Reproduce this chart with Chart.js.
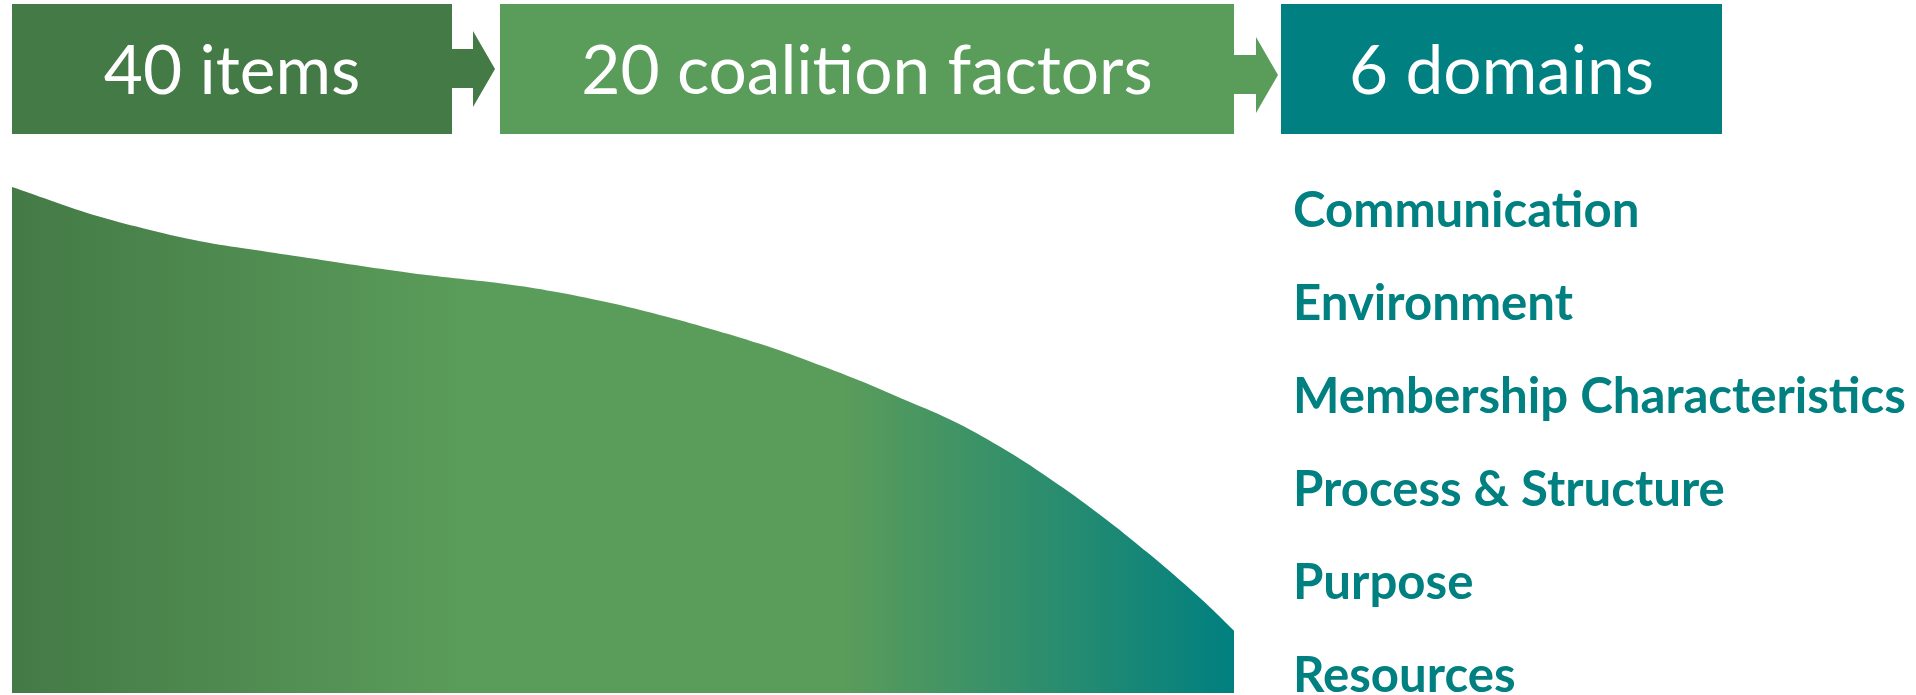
<!DOCTYPE html>
<html>
<head>
<meta charset="utf-8">
<script src="https://cdn.jsdelivr.net/npm/chart.js@4"></script>
<style>
  html, body { margin: 0; padding: 0; background: #ffffff; }
  body { width: 1916px; height: 695px; position: relative; overflow: hidden; font-family: Lato, "Open Sans", sans-serif; }
  #zona-curva { position: absolute; left: 12px; top: 187px; width: 1222px; height: 506px; }
  #capa { position: absolute; left: 0; top: 0; }
</style>
</head>
<body>
<div id="zona-curva"><canvas id="grafico" width="1222" height="506"></canvas></div>
<svg id="capa" width="1916" height="695" xmlns="http://www.w3.org/2000/svg"></svg>
<script>
// --- DATOS ---
const etapas = ['40 items', '20 coalition factors', '6 domains'];
const coloresEtapa = ['#447a46', '#5a9c5a', '#008080'];
const dominios = ['Communication', 'Environment', 'Membership Characteristics', 'Process & Structure', 'Purpose', 'Resources'];

// curva: posición horizontal (0-100) y altura relativa (0-100)
const posicion = [0, 3.1, 7.2, 11.3, 15.4, 19.5, 23.6, 32.6, 40.8, 44.9, 48.9, 53.0, 57.1, 61.2, 65.3, 69.4, 72.7, 76.8, 80.9, 84.9, 89.0, 93.1, 97.2, 100];
const altura = [100, 97.4, 94.1, 91.5, 89.3, 87.7, 86.2, 83.0, 80.7, 79.1, 77.1, 74.7, 72.0, 69.0, 65.5, 61.7, 58.3, 54.0, 48.6, 42.4, 35.3, 27.4, 18.8, 12.3];

// --- CAJAS Y FLECHAS (SVG) ---
const NS = 'http://www.w3.org/2000/svg';
const capa = document.getElementById('capa');

function nuevo(tag, attrs, texto) {
    const el = document.createElementNS(NS, tag);
    Object.entries(attrs).forEach(([k, v]) => el.setAttribute(k, v));
    if (texto) el.textContent = texto;
    capa.appendChild(el);
    return el;
}

const cajas = [
    { x: 12, w: 440, ancho: 254 },
    { x: 500, w: 734, ancho: 570 },
    { x: 1281, w: 441, ancho: 309 }
];
cajas.forEach((c, i) => nuevo('rect', { x: c.x, y: 4, width: c.w, height: 130, fill: coloresEtapa[i] }));

// flechas entre cajas
nuevo('polygon', { points: '452,49 473,49 473,31 495,69 473,107 473,88 452,88', fill: coloresEtapa[0] });
nuevo('polygon', { points: '1234,55 1256,55 1256,37 1278,75 1256,113 1256,94 1234,94', fill: coloresEtapa[1] });

// medir texto para ajustar tamaño
const medidor = document.createElement('canvas').getContext('2d');
function anchoTexto(txt, peso) {
    medidor.font = `${peso} 100px Lato`;
    return medidor.measureText(txt).width;
}

let sumaObj = 0, sumaMed = 0;
etapas.forEach((t, i) => { sumaObj += cajas[i].ancho; sumaMed += anchoTexto(t, 'normal'); });
const tamEtapa = 100 * sumaObj / sumaMed;

etapas.forEach((t, i) => {
    nuevo('text', {
        x: cajas[i].x + cajas[i].w / 2, y: 94, 'text-anchor': 'middle',
        'font-family': 'Lato', 'font-size': tamEtapa, fill: '#ffffff'
    }, t);
});

const tamDominio = 100 * 613 / anchoTexto('Membership Characteristics', 'bold');
dominios.forEach((d, i) => {
    nuevo('text', {
        x: 1293, y: 227 + i * 93,
        'font-family': 'Lato', 'font-weight': 'bold', 'font-size': tamDominio, fill: '#008080'
    }, d);
});

// --- CURVA (Chart.js) ---
function degradado(ctx) {
    const area = ctx.chart.chartArea;
    if (!area) return coloresEtapa[1];
    const g = ctx.chart.ctx.createLinearGradient(area.left, 0, area.right, 0);
    g.addColorStop(0, '#447a46');
    g.addColorStop(0.37, '#5a9c5a');
    g.addColorStop(0.68, '#5a9c5a');
    g.addColorStop(1, '#008080');
    return g;
}

new Chart(document.getElementById('grafico').getContext('2d'), {
    type: 'line',
    data: {
        datasets: [{
            data: posicion.map((x, i) => ({ x: x, y: altura[i] })),
            fill: 'origin',
            backgroundColor: degradado,
            borderWidth: 0,
            pointRadius: 0,
            tension: 0.4
        }]
    },
    options: {
        responsive: false,
        animation: false,
        layout: { padding: 0 },
        plugins: { legend: { display: false }, tooltip: { enabled: false } },
        scales: {
            x: { type: 'linear', min: 0, max: 100, display: false },
            y: { min: 0, max: 100, display: false }
        }
    }
});
</script>
</body>
</html>
